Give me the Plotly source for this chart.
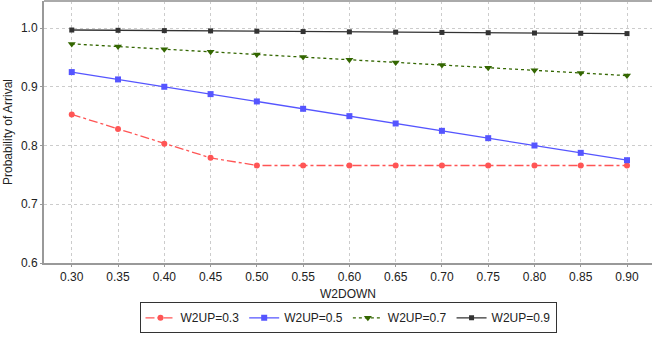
import plotly.graph_objects as go

w2down = [0.30, 0.35, 0.40, 0.45, 0.50, 0.55, 0.60, 0.65, 0.70, 0.75, 0.80, 0.85, 0.90]
up03 = [0.853, 0.828, 0.803, 0.779, 0.766, 0.766, 0.766, 0.766, 0.766, 0.766, 0.766, 0.766, 0.766]
up05 = [0.925, 0.9125, 0.900, 0.8875, 0.875, 0.8625, 0.850, 0.8375, 0.825, 0.8125, 0.800, 0.7875, 0.775]
up07 = [0.973, 0.9685, 0.964, 0.9595, 0.955, 0.9505, 0.946, 0.9415, 0.937, 0.9325, 0.928, 0.9235, 0.919]
up09 = [0.9966, 0.9961, 0.9956, 0.9951, 0.9946, 0.9940, 0.9935, 0.9930, 0.9925, 0.9920, 0.9915, 0.9910, 0.9905]
x_ticks = ["0.30", "0.35", "0.40", "0.45", "0.50", "0.55", "0.60", "0.65", "0.70", "0.75", "0.80", "0.85", "0.90"]
y_ticks = [0.6, 0.7, 0.8, 0.9, 1.0]

series = [
    ("W2UP=0.3", up03, "#FF5555", "dashdot", "circle", 6),
    ("W2UP=0.5", up05, "#5555FF", "solid", "square", 6),
    ("W2UP=0.7", up07, "#336600", "dot", "triangle-down", 7),
    ("W2UP=0.9", up09, "#333333", "solid", "square", 5),
]

fig = go.Figure()
for name, ys, color, dash, sym, size in series:
    fig.add_trace(go.Scatter(
        x=w2down, y=ys, name=name, mode="lines+markers",
        line=dict(color=color, width=1.3, dash=dash),
        marker=dict(color=color, symbol=sym, size=size),
    ))

fig.update_layout(
    width=654, height=337,
    margin=dict(l=44, r=2, t=1, b=74),
    paper_bgcolor="white", plot_bgcolor="white",
    font=dict(family="Liberation Sans, Arial, sans-serif", size=12, color="#222222"),
    showlegend=True,
    legend=dict(orientation="h", x=0.5, xanchor="center", y=-0.15, yanchor="top",
                bordercolor="#333333", borderwidth=1, font=dict(size=12),
                itemwidth=30, tracegroupgap=0),
)
fig.update_xaxes(
    range=[0.27, 0.927], tickvals=w2down, ticktext=x_ticks,
    title=dict(text="W2DOWN", standoff=6, font=dict(size=12)),
    showgrid=True, gridcolor="#CCCCCC", griddash="dot", gridwidth=1,
    showline=True, linecolor="#999999", linewidth=2, mirror=False,
    ticks="outside", ticklen=2, tickcolor="#999999", zeroline=False,
)
fig.update_yaxes(
    range=[0.6, 1.046], tickvals=y_ticks, ticktext=["0.6", "0.7", "0.8", "0.9", "1.0"],
    title=dict(text="Probability of Arrival", standoff=6, font=dict(size=12)),
    showgrid=True, gridcolor="#CCCCCC", griddash="dot", gridwidth=1,
    showline=True, linecolor="#999999", linewidth=2,
    ticks="outside", ticklen=2, tickcolor="#999999", zeroline=False,
)
fig.add_shape(type="line", xref="paper", yref="paper", x0=0, x1=1, y0=1, y1=1,
              line=dict(color="#AAAAAA", width=2))
fig.write_html("out.html", config={"displayModeBar": False},
               post_script="document.body.style.margin='0';")
